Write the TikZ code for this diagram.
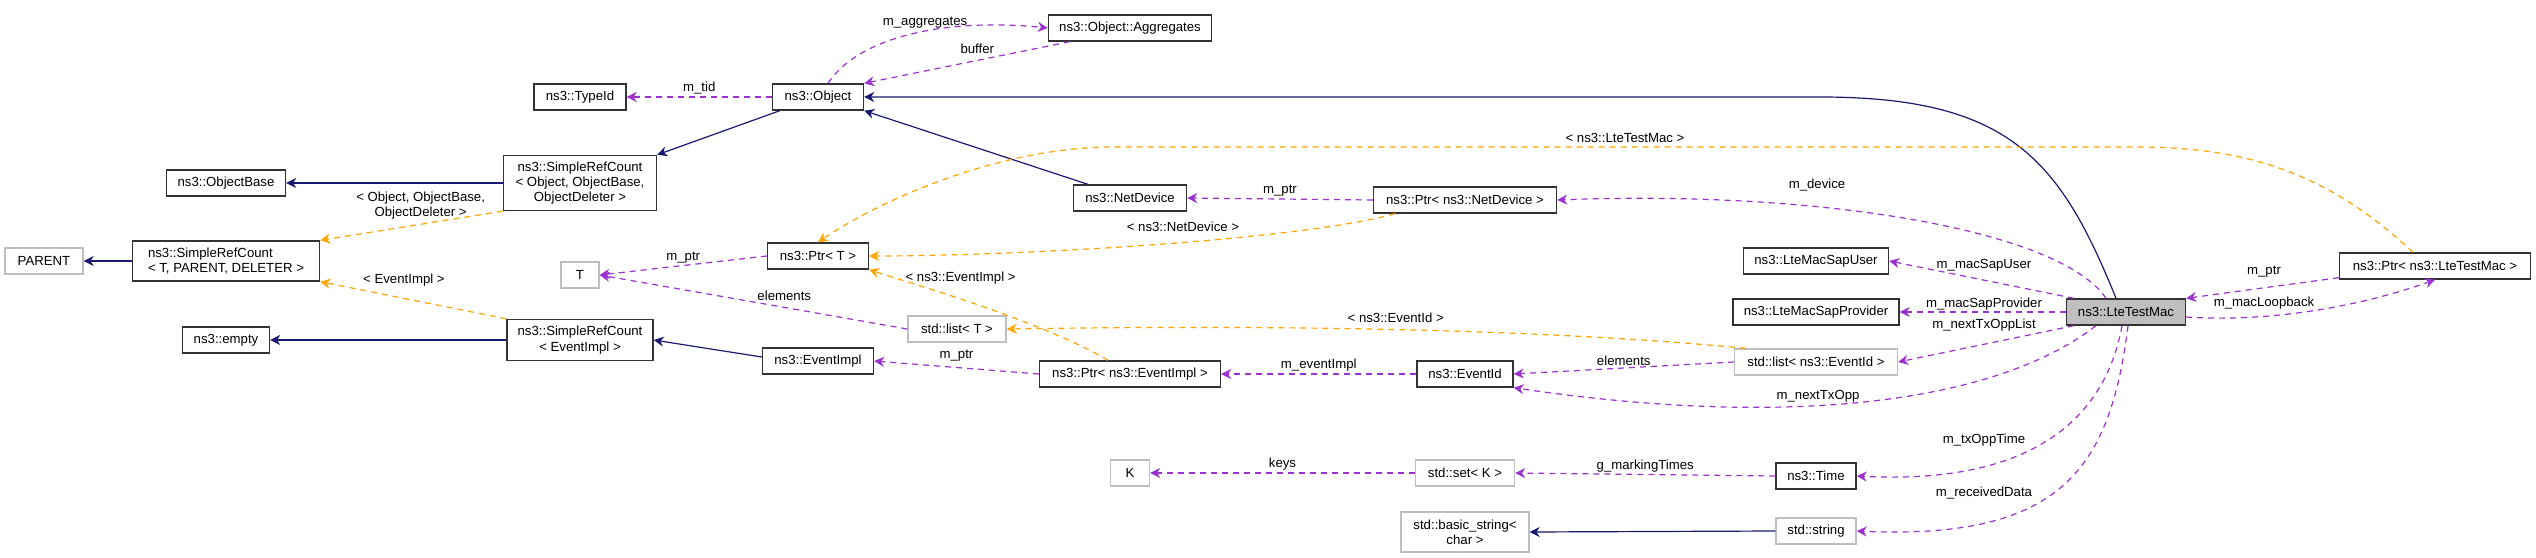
\documentclass[tikz,border=0pt]{standalone}
\usepackage{fontspec}
\setmainfont{Liberation Sans}
\usetikzlibrary{arrows.meta}
\definecolor{inhc}{HTML}{191970}
\definecolor{usec}{HTML}{9A32CD}
\definecolor{tplc}{HTML}{FFA500}
\begin{document}
\begin{tikzpicture}[x=0.5pt,y=-0.5pt,
  every node/.style={font=\fontsize{6.6}{7.6}\selectfont},
  box/.style={draw=black!80, line width=0.7pt, fill=white, inner sep=1pt, minimum height=13pt, align=center},
  gbox/.style={box, draw=black!25},
  inh/.style={draw=inhc, line width=0.6pt, -{Stealth[length=5pt,width=5pt]}},
  use/.style={draw=usec, line width=0.6pt, dashed, dash pattern=on 3pt off 2.5pt, -{Stealth[length=5pt,width=5pt]}},
  tpl/.style={draw=tplc, line width=0.6pt, dashed, dash pattern=on 3pt off 2.5pt, -{Stealth[length=5pt,width=5pt]}},
  lbl/.style={inner sep=1pt}]
\fill[white] (0,0) rectangle (2536,557);
\useasboundingbox (0,0) rectangle (2536,557);
% nodes
\node[box, minimum width=46pt] (tid) at (580,97) {ns3::TypeId};
\node[box, minimum width=45.5pt] (obj) at (818,97) {ns3::Object};
\node[box, minimum width=59.5pt] (objb) at (226,183) {ns3::ObjectBase};
\node[box, minimum width=76.5pt, minimum height=27.5pt] (srco) at (580,183) {ns3::SimpleRefCount\\< Object, ObjectBase,\\ObjectDeleter >};
\node[gbox, minimum width=39pt] (par) at (44,261) {PARENT};
\node[box, minimum width=93.5pt, minimum height=20pt, align=left] (srct) at (226,261) {ns3::SimpleRefCount\\< T, PARENT, DELETER >};
\node[gbox, minimum width=19pt] (T) at (580,275) {T};
\node[box, minimum width=50.5pt] (ptrt) at (818,256) {ns3::Ptr< T >};
\node[box, minimum width=43.5pt] (emp) at (226,340) {ns3::empty};
\node[box, minimum width=73pt, minimum height=20.5pt] (srce) at (580,340) {ns3::SimpleRefCount\\< EventImpl >};
\node[box, minimum width=55.5pt] (evi) at (818,361) {ns3::EventImpl};
\node[box, minimum width=81.5pt] (agg) at (1130,28) {ns3::Object::Aggregates};
\node[box, minimum width=56.5pt] (nd) at (1130,198) {ns3::NetDevice};
\node[box, minimum width=91.5pt] (ptrnd) at (1465,200) {ns3::Ptr< ns3::NetDevice >};
\node[gbox, minimum width=49pt] (listt) at (957,329) {std::list< T >};
\node[box, minimum width=90.5pt] (ptrev) at (1130,374) {ns3::Ptr< ns3::EventImpl >};
\node[box, minimum width=48pt] (evid) at (1465,374) {ns3::EventId};
\node[gbox, minimum width=19.5pt] (K) at (1130,473) {K};
\node[gbox, minimum width=49.5pt] (setk) at (1465,473) {std::set< K >};
\node[gbox, minimum width=64pt, minimum height=20pt] (bstr) at (1465,532) {std::basic\_string<\\char >};
\node[box, minimum width=72.5pt] (sapu) at (1816,261) {ns3::LteMacSapUser};
\node[box, minimum width=83pt] (sapp) at (1816,312) {ns3::LteMacSapProvider};
\node[box, minimum width=59.5pt, fill=black!25] (ltm) at (2126,312) {ns3::LteTestMac};
\node[box, minimum width=95.5pt] (ptrltm) at (2435,266) {ns3::Ptr< ns3::LteTestMac >};
\node[gbox, minimum width=81.5pt] (listev) at (1816,362) {std::list< ns3::EventId >};
\node[box, minimum width=40pt] (time) at (1816,476) {ns3::Time};
\node[gbox, minimum width=40pt] (str) at (1816,531) {std::string};
% inheritance
\draw[inh] (obj.south west) ++(8,0) -- (srco.north east);
\draw[inh] (srco.west) -- (objb.east);
\draw[inh] (srct.west) -- (par.east);
\draw[inh] (srce.west) -- (emp.east);
\draw[inh] (evi.west) ++(0,-4) -- (srce.east);
\draw[inh] (nd.north west) ++(15,0) -- (obj.south east);
\draw[inh] (ltm.north) ++(-10,0) .. controls (2060,160) and (2010,97) .. (1820,97) -- (obj.east);
\draw[inh] (str.west) -- (bstr.east);
% templates
\draw[tpl] (srco.south west) -- (srct.north east) node[lbl, pos=0.45, above=1pt, align=center] {< Object, ObjectBase,\\ObjectDeleter >};
\draw[tpl] (srce.north west) -- (srct.south east) node[lbl, pos=0.55, above=5pt] {< EventImpl >};
\draw[tpl] (ptrnd.south west) ++(22,0) .. controls (1300,240) and (1020,256) .. (ptrt.east) node[lbl, pos=0.45, above=4pt] {< ns3::NetDevice >};
\draw[tpl] (ptrev.north) ++(-22,0) .. controls (1040,320) and (900,280) .. (ptrt.south east) node[lbl, pos=0.55, above=6pt] {< ns3::EventImpl >};
\draw[tpl] (listev.north west) ++(12,0) .. controls (1500,325) and (1200,326) .. (listt.east) node[lbl, pos=0.45, above=2pt] {< ns3::EventId >};
\draw[tpl] (ptrltm.north) ++(-22,0) .. controls (2330,175) and (2250,147) .. (2137,147) -- (1113,147) node[lbl, pos=0.5, above=1pt] {< ns3::LteTestMac >} .. controls (1000,147) and (880,200) .. (ptrt.north);
% usage
\draw[use] (obj.west) -- (tid.east) node[lbl, midway, above] {m\_tid};
\draw[use] (obj.north) ++(10,0) .. controls (860,35) and (950,18) .. (agg.west) node[lbl, pos=0.55, above] {m\_aggregates};
\draw[use] (agg.south west) ++(22,0) -- (obj.north east) node[lbl, pos=0.45, above=2pt] {buffer};
\draw[use] (ptrt.west) -- (T.east) node[lbl, midway, above] {m\_ptr};
\draw[use] (listt.west) -- (T.east) node[lbl, pos=0.4, above=2pt] {elements};
\draw[use] (ptrnd.west) -- (nd.east) node[lbl, midway, above] {m\_ptr};
\draw[use] (ptrev.west) -- (evi.east) node[lbl, midway, above=2pt] {m\_ptr};
\draw[use] (evid.west) -- (ptrev.east) node[lbl, midway, above] {m\_eventImpl};
\draw[use] (listev.west) -- (evid.east) node[lbl, midway, above] {elements};
\draw[use] (setk.west) -- (K.east) node[lbl, midway, above] {keys};
\draw[use] (time.west) -- (setk.east) node[lbl, midway, above] {g\_markingTimes};
\draw[use] (ltm.north) ++(-20,0) .. controls (2060,230) and (1820,190) .. (ptrnd.east);
\node[lbl] (lmdev) at (1817,185) {m\_device};
\draw[use] (ltm.north west) ++(8,0) -- (sapu.east);
\node[lbl] (lmsu) at (1984,265) {m\_macSapUser};
\draw[use] (ltm.west) -- (sapp.east);
\node[lbl] (lmsp) at (1984,304) {m\_macSapProvider};
\draw[use] (ltm.south west) ++(8,0) -- (listev.east);
\node[lbl] (lntl) at (1984,325) {m\_nextTxOppList};
\draw[use] (ltm.south) ++(-30,0) .. controls (2000,400) and (1800,430) .. (evid.south east);
\node[lbl] (lnt) at (1818,396) {m\_nextTxOpp};
\draw[use] (ltm.south) ++(-4,0) .. controls (2105,420) and (2030,485) .. (time.east);
\node[lbl] (ltot) at (1984,440) {m\_txOppTime};
\draw[use] (ltm.south) ++(2,0) .. controls (2110,470) and (2060,540) .. (str.east);
\node[lbl] (lrd) at (1984,493) {m\_receivedData};
\draw[use] (ptrltm.south west) ++(0,-2) -- (ltm.north east);
\node[lbl] (lptr) at (2264,272) {m\_ptr};
\draw[use] (ltm.east) ++(0,5) .. controls (2260,322) and (2350,310) .. (ptrltm.south);
\node[lbl] (lml) at (2264,303) {m\_macLoopback};
\end{tikzpicture}
\end{document}
